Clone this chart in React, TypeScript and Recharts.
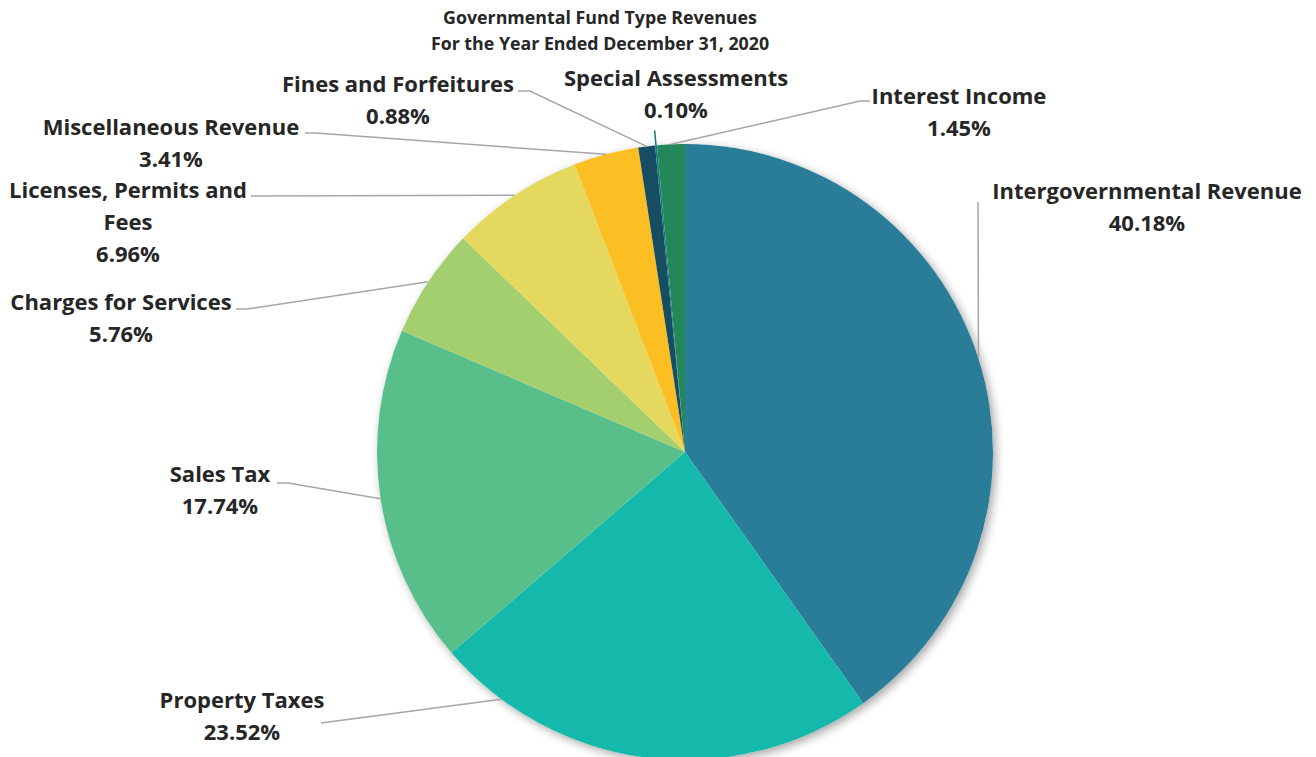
import React from 'react';
import { PieChart, Pie, Cell } from 'recharts';

// Governmental fund type revenues, 2020 (share of total, %)
const categories = [
    'Intergovernmental Revenue',
    'Property Taxes',
    'Sales Tax',
    'Charges for Services',
    'Licenses, Permits and Fees',
    'Miscellaneous Revenue',
    'Fines and Forfeitures',
    'Special Assessments',
    'Interest Income',
];
const shares = [40.18, 23.52, 17.74, 5.76, 6.96, 3.41, 0.88, 0.10, 1.45];
const colors = ['#2A7D99', '#14B9AB', '#58BF8A', '#A3CF6E', '#E4D95E', '#FBBF24', '#164D62', '#0F7C78', '#23875A'];

const titleLines = ['Governmental Fund Type Revenues', 'For the Year Ended December 31, 2020'];

const data = categories.map((name, i) => ({ name, value: shares[i] }));

const FONT = '"Open Sans", Lato, sans-serif';
const TEXT = '#262626';
const LEADER = '#A6A6A6';
const RAD = Math.PI / 180;

// where each label sits and how its leader line bends (chart px)
const labelLayout: any[] = [
    { x: 1147, y: 190, lines: ['Intergovernmental Revenue'], path: [[978, 202]] },
    { x: 242, y: 699, lines: ['Property Taxes'], path: [[321, 723]], attach: 0.85 },
    { x: 220, y: 473, lines: ['Sales Tax'], path: [[288, 483], [277, 483]] },
    { x: 121, y: 301, lines: ['Charges for Services'], path: [[247, 309], [236, 309]] },
    { x: 128, y: 189, lines: ['Licenses, Permits and', 'Fees'], path: [[251, 196]] },
    { x: 171, y: 126, lines: ['Miscellaneous Revenue'], path: [[316, 133], [305, 133]] },
    { x: 398, y: 83, lines: ['Fines and Forfeitures'], path: [[530, 91], [518, 91]] },
    { x: 676, y: 77, lines: ['Special Assessments'], radial: 15 },
    { x: 959, y: 95, lines: ['Interest Income'], path: [[860, 101], [870, 101]] },
];

const polar = (cx: number, cy: number, r: number, angle: number) => [
    cx + Math.cos(-angle * RAD) * r,
    cy + Math.sin(-angle * RAD) * r,
];

const renderLabel = (props: any) => {
    const { cx, cy, outerRadius, startAngle, endAngle, midAngle, index, value } = props;
    const lay = labelLayout[index];
    const ang = lay.attach != null ? startAngle + (endAngle - startAngle) * lay.attach : midAngle;
    const edge = polar(cx, cy, outerRadius, ang);
    let line = null;
    if (lay.radial) {
        const out = polar(cx, cy, outerRadius + lay.radial, ang);
        line = <line x1={edge[0]} y1={edge[1]} x2={out[0]} y2={out[1]} stroke={colors[index]} strokeWidth={1.5} />;
    } else {
        const pts = [edge, ...lay.path].map((p: number[]) => p.join(',')).join(' ');
        line = <polyline points={pts} fill="none" stroke={LEADER} strokeWidth={1.5} />;
    }
    const rows = [...lay.lines, value.toFixed(2) + '%'];
    return (
        <g key={'lbl-' + index}>
            {line}
            {rows.map((t: string, k: number) => (
                <text key={k} x={lay.x} y={lay.y + k * 32} textAnchor="middle" dominantBaseline="central"
                    fill={TEXT} fontFamily={FONT} fontWeight={700} fontSize={22}>
                    {t}
                </text>
            ))}
        </g>
    );
};

export default function App() {
    return (
        <div style={{ position: 'absolute', left: 0, top: 0, width: 1316, height: 757, overflow: 'hidden', background: '#fff' }}>
            <PieChart width={1316} height={757} margin={{ top: 0, right: 0, bottom: 0, left: 0 }}>
                {/* soft shadow disc behind the slices */}
                <Pie data={[{ name: 'bg', value: 1 }]} dataKey="value" cx={685} cy={452} outerRadius={308}
                    startAngle={90} endAngle={-270} isAnimationActive={false} stroke="none" label={false}>
                    <Cell fill="#fff" style={{ filter: 'drop-shadow(3px 3px 5px rgba(0,0,0,0.35))' }} />
                </Pie>
                <Pie data={data} dataKey="value" nameKey="name" cx={685} cy={452} outerRadius={308}
                    startAngle={90} endAngle={-270} isAnimationActive={false} stroke="none"
                    label={renderLabel} labelLine={false}>
                    {data.map((d, i) => <Cell key={d.name} fill={colors[i]} />)}
                </Pie>
                {titleLines.map((t, i) => (
                    <text key={t} x={600} y={17 + i * 26} textAnchor="middle" dominantBaseline="central"
                        fill={TEXT} fontFamily={FONT} fontWeight={700} fontSize={17.8}>
                        {t}
                    </text>
                ))}
            </PieChart>
        </div>
    );
}
